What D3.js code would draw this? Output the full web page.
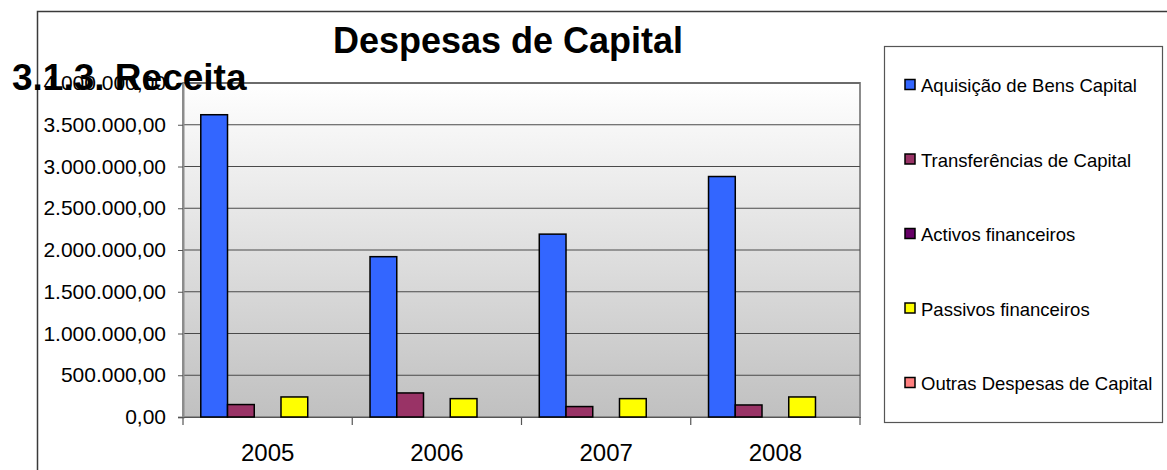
<!DOCTYPE html>
<html>
<head>
  <script src="https://cdn.jsdelivr.net/npm/d3@7"></script>
  <style type="text/css">
    body { margin: 0; background: #fff; }
    svg text { font-family: Arial, "Liberation Sans", sans-serif; }
  </style>
</head>
<body>
<svg id="chart" width="1167" height="470"></svg>

<script type="text/javascript">
// chart data
const years = ['2005', '2006', '2007', '2008'];
const seriesNames = [
  'Aquisição de Bens Capital',
  'Transferências de Capital',
  'Activos financeiros',
  'Passivos financeiros',
  'Outras Despesas de Capital'
];
const seriesColors = ['#3366ff', '#993366', '#660066', '#ffff00', '#ff8080'];
const aquisicao = [3620000, 1920000, 2190000, 2880000];
const transferencias = [149000, 288000, 125000, 144000];
const activos = [0, 0, 0, 0];
const passivos = [240000, 220000, 220000, 240000];
const outras = [0, 0, 0, 0];
const yTicks = [0, 500000, 1000000, 1500000, 2000000, 2500000, 3000000, 3500000, 4000000];

const allSeries = [aquisicao, transferencias, activos, passivos, outras];

const svg = d3.select('#chart');

// plot box
const plot = {left: 183, right: 860, top: 83, bottom: 417};

// outer chart frame (continues past the picture)
svg.append('path')
  .attr('d', 'M37.5,480 V11.5 H1180')
  .attr('fill', 'none')
  .attr('stroke', '#3a3a3a')
  .attr('stroke-width', 1.5);

// background gradient
const defs = svg.append('defs');
const grad = defs.append('linearGradient')
  .attr('id', 'bg').attr('x1', 0).attr('y1', 0).attr('x2', 0).attr('y2', 1);
grad.append('stop').attr('offset', '0%').attr('stop-color', '#ffffff');
grad.append('stop').attr('offset', '100%').attr('stop-color', '#c0c0c0');

svg.append('rect')
  .attr('x', plot.left).attr('y', plot.top)
  .attr('width', plot.right - plot.left).attr('height', plot.bottom - plot.top)
  .attr('fill', 'url(#bg)')
  .attr('stroke', '#8c8c8c')
  .attr('stroke-width', 2);

const x0 = d3.scaleBand().domain(years).range([plot.left, plot.right]).padding(0);
const x1 = d3.scaleBand().domain(d3.range(seriesNames.length))
  .range([0, x0.bandwidth()]).paddingInner(0).paddingOuter(0.665);
const y = d3.scaleLinear().domain([0, 4000000]).range([plot.bottom, plot.top]);

const fmt = v => d3.format(',.2f')(v).replace(/,/g, '#').replace('.', ',').replace(/#/g, '.');

// gridlines
svg.append('g')
  .selectAll('line')
  .data(yTicks.slice(1))
  .enter().append('line')
  .attr('x1', plot.left).attr('x2', plot.right)
  .attr('y1', d => y(d)).attr('y2', d => y(d))
  .attr('stroke', '#4a4a4a')
  .attr('stroke-width', 1.2);

// y axis
const yAxis = svg.append('g')
  .attr('transform', `translate(${plot.left},0)`)
  .call(d3.axisLeft(y).tickValues(yTicks).tickFormat(fmt).tickSize(5).tickPadding(12));
yAxis.select('.domain').attr('stroke', '#8c8c8c').attr('stroke-width', 2);
yAxis.selectAll('.tick line').attr('stroke', '#555');
yAxis.selectAll('.tick text')
  .attr('font-size', '21px').attr('fill', '#000')
  .attr('font-family', 'Arial, "Liberation Sans", sans-serif');

// x axis
const xAxis = svg.append('g')
  .attr('transform', `translate(0,${plot.bottom})`)
  .call(d3.axisBottom(x0).tickSize(0).tickPadding(27));
xAxis.select('.domain').attr('stroke', '#555').attr('stroke-width', 1.2);
xAxis.selectAll('.tick text')
  .attr('font-size', '24px').attr('fill', '#000')
  .attr('font-family', 'Arial, "Liberation Sans", sans-serif');

// category separator ticks
svg.append('g')
  .selectAll('line')
  .data(years.map(d => x0(d)).concat([plot.right]))
  .enter().append('line')
  .attr('x1', d => d).attr('x2', d => d)
  .attr('y1', plot.bottom).attr('y2', plot.bottom + 8)
  .attr('stroke', '#555')
  .attr('stroke-width', 1.2);

// bars
const groups = svg.append('g')
  .selectAll('g')
  .data(years)
  .enter().append('g')
  .attr('transform', d => `translate(${x0(d)},0)`);

groups.selectAll('rect')
  .data((d, i) => allSeries.map((s, k) => ({k: k, v: s[i]})).filter(e => e.v > 0))
  .enter().append('rect')
  .attr('x', d => x1(d.k))
  .attr('width', x1.bandwidth())
  .attr('y', d => y(d.v))
  .attr('height', d => y(0) - y(d.v))
  .attr('fill', d => seriesColors[d.k])
  .attr('stroke', '#000')
  .attr('stroke-width', 1.5);

// title
svg.append('text')
  .attr('x', 508).attr('y', 53)
  .attr('text-anchor', 'middle')
  .attr('font-size', '36px')
  .attr('font-weight', 'bold')
  .text('Despesas de Capital');

// legend
const legend = svg.append('g');
legend.append('rect')
  .attr('x', 884.5).attr('y', 46.5)
  .attr('width', 278).attr('height', 376)
  .attr('fill', '#fff')
  .attr('stroke', '#555')
  .attr('stroke-width', 1.2);

const ly = d3.scalePoint().domain(d3.range(seriesNames.length)).range([85, 383]);
const items = legend.selectAll('g.item')
  .data(seriesNames)
  .enter().append('g')
  .attr('class', 'item')
  .attr('transform', (d, i) => `translate(905,${ly(i)})`);
items.append('rect')
  .attr('x', 0).attr('y', -5.5)
  .attr('width', 10).attr('height', 10)
  .attr('fill', (d, i) => seriesColors[i])
  .attr('stroke', '#000')
  .attr('stroke-width', 1.5);
items.append('text')
  .attr('x', 16).attr('y', 7)
  .attr('font-size', '18.5px')
  .text(d => d);

// heading from the surrounding document, drawn over the chart
svg.append('text')
  .attr('x', 12).attr('y', 90)
  .attr('font-size', '37px')
  .attr('font-weight', 'bold')
  .text('3.1.3. Receita');
</script>
</html>
